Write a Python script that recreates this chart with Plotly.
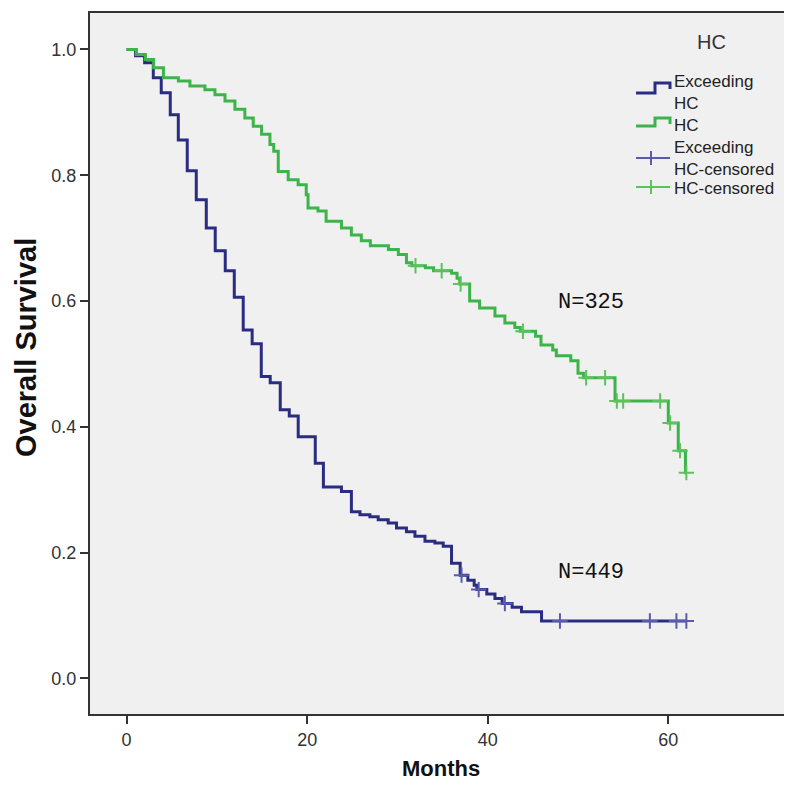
import plotly.graph_objects as go
import numpy as np

# ---- Data ----
exceed_times = [0, 1.0, 2.0, 2.96, 3.84, 4.84, 5.73, 6.72, 7.72, 8.83, 9.82, 10.93, 11.93,
                12.92, 13.91, 14.92, 15.91, 17.02, 18.02, 19.01, 20.90, 21.8, 23.8, 24.9, 25.85,
                26.95, 27.87, 28.98, 29.9, 31.0, 31.94, 33.05, 34.15, 35.07, 35.99, 36.95,
                37.8, 38.5, 38.8, 39.9, 40.8, 41.6, 42.7, 43.74, 45.96]
exceed_surv = [1.0, 0.99, 0.979, 0.955, 0.931, 0.896, 0.856, 0.807, 0.761, 0.716, 0.680, 0.648,
               0.606, 0.554, 0.532, 0.480, 0.470, 0.427, 0.417, 0.384, 0.342, 0.304, 0.297, 0.265,
               0.260, 0.257, 0.252, 0.247, 0.239, 0.233, 0.226, 0.218, 0.215, 0.210, 0.183,
               0.164, 0.156, 0.148, 0.141, 0.134, 0.127, 0.119, 0.113, 0.106, 0.091]
exceed_end = 62.0
exceed_censor = [37.1, 39.0, 41.9, 48.0, 57.96, 60.9, 62.0]

hc_times = [0, 1.09, 2.08, 3.0, 4.08, 5.74, 7.02, 8.68, 9.79, 10.9, 12.0, 13.1, 14.03, 14.95,
            15.88, 16.3, 16.8, 17.9, 19.0, 19.9, 20.1, 21.2, 22.1, 23.8, 24.9, 26.0, 27.0,
            29.0, 30.1, 31.0, 31.6, 33.1, 34.0, 36.0, 36.6, 36.9, 38.0, 39.1, 40.8, 41.9,
            43.0, 43.6, 45.3, 45.9, 47.2, 47.6, 49.2, 50.0, 50.6, 54.1, 60.0, 61.1, 61.9]
hc_surv = [1.0, 0.992, 0.984, 0.971, 0.955, 0.950, 0.942, 0.936, 0.928, 0.918, 0.905, 0.891,
           0.878, 0.865, 0.849, 0.838, 0.806, 0.793, 0.785, 0.769, 0.748, 0.743, 0.727, 0.716,
           0.705, 0.696, 0.688, 0.682, 0.674, 0.661, 0.656, 0.653, 0.648, 0.644, 0.636, 0.627,
           0.600, 0.589, 0.576, 0.565, 0.558, 0.552, 0.544, 0.530, 0.522, 0.513, 0.505, 0.485,
           0.478, 0.441, 0.406, 0.362, 0.327]
hc_end = 62.0
hc_censor = [32.0, 34.9, 37.0, 43.9, 50.9, 53.0, 54.3, 55.0, 59.1, 60.2, 61.3, 62.0]

x_ticks = [0, 20, 40, 60]
y_ticks = [0.0, 0.2, 0.4, 0.6, 0.8, 1.0]

legend_title = "HC"
series_names = ["Exceeding<br>HC", "HC", "Exceeding<br>HC-censored", "HC-censored"]
n_labels = [("N=325", 51.4, 0.598), ("N=449", 51.4, 0.169)]

BLUE = "#2a2c82"
GREEN = "#3cb44a"
BLUE_C = "#5a5cab"
GREEN_C = "#5cc25c"

# ---- layout geometry (pixels) ----
W, H = 792, 785
ML, MR, MT, MB = 82, 8, 5, 79
PW, PH = W - ML - MR, H - MT - MB


def pxx(px):
    return (px - ML) / PW


def pxy(py):
    return (H - MB - py) / PH


def step_value(times, surv, t):
    idx = np.searchsorted(np.array(times), t, side="right") - 1
    return surv[idx]


fig = go.Figure()

fig.add_trace(go.Scatter(x=exceed_times + [exceed_end], y=exceed_surv + [exceed_surv[-1]],
                         mode="lines", line=dict(color=BLUE, width=3, shape="hv"),
                         name="Exceeding HC", showlegend=False))
fig.add_trace(go.Scatter(x=hc_times + [hc_end], y=hc_surv + [hc_surv[-1]],
                         mode="lines", line=dict(color=GREEN, width=3, shape="hv"),
                         name="HC", showlegend=False))
fig.add_trace(go.Scatter(x=exceed_censor,
                         y=[step_value(exceed_times, exceed_surv, t) for t in exceed_censor],
                         mode="markers",
                         marker=dict(symbol="cross-thin", size=11, line=dict(color=BLUE_C, width=2)),
                         showlegend=False, name="Exceeding HC-censored"))
fig.add_trace(go.Scatter(x=hc_censor,
                         y=[step_value(hc_times, hc_surv, t) for t in hc_censor],
                         mode="markers",
                         marker=dict(symbol="cross-thin", size=11, line=dict(color=GREEN_C, width=2)),
                         showlegend=False, name="HC-censored"))

for txt, xx, yy in n_labels:
    fig.add_annotation(x=xx, y=yy, text=txt, showarrow=False, xref="x", yref="y",
                       font=dict(family="Liberation Mono", size=22, color="#111111"))

# ---- manual legend (SPSS style) ----
LEG_FONT = dict(family="Liberation Sans", size=17, color="#222222")
fig.add_annotation(x=pxx(703), y=pxy(34), xref="paper", yref="paper", text=legend_title,
                   showarrow=False, xanchor="center", yanchor="middle",
                   font=dict(family="Liberation Sans", size=20, color="#333333"))
legend_items = [(series_names[0], 85), (series_names[1], 117),
                (series_names[2], 150), (series_names[3], 180)]
for txt, yy in legend_items:
    fig.add_annotation(x=pxx(664), y=pxy(yy), xref="paper", yref="paper", text=txt,
                       showarrow=False, xanchor="left", yanchor="middle", align="left",
                       font=LEG_FONT)


def step_icon(y_low, y_high, color):
    path = (f"M {pxx(628)},{pxy(y_low)} L {pxx(647)},{pxy(y_low)} L {pxx(647)},{pxy(y_high)} "
            f"L {pxx(662)},{pxy(y_high)} L {pxx(662)},{pxy(y_high + 6)}")
    return dict(type="path", path=path, xref="paper", yref="paper",
                line=dict(color=color, width=3))


def censor_icon(yc, color):
    return [dict(type="line", xref="paper", yref="paper", x0=pxx(628), x1=pxx(662),
                 y0=pxy(yc), y1=pxy(yc), line=dict(color=color, width=2)),
            dict(type="line", xref="paper", yref="paper", x0=pxx(643), x1=pxx(643),
                 y0=pxy(yc - 7), y1=pxy(yc + 7), line=dict(color=color, width=2))]


shapes = [step_icon(85, 75, BLUE), step_icon(118, 110, GREEN)]
shapes += censor_icon(150, BLUE_C)
shapes += censor_icon(179, GREEN_C)

# axis titles
fig.add_annotation(x=pxx(18), y=pxy(340), xref="paper", yref="paper",
                   text="<b>Overall Survival</b>", textangle=-90, showarrow=False,
                   xanchor="center", yanchor="middle",
                   font=dict(family="Liberation Sans", size=29, color="#111111"))
fig.add_annotation(x=pxx(433), y=pxy(760), xref="paper", yref="paper",
                   text="<b>Months</b>", showarrow=False, xanchor="center", yanchor="middle",
                   font=dict(family="Liberation Sans", size=22, color="#111111"))

axis_common = dict(showgrid=False, zeroline=False, showline=True, linecolor="#333333",
                   linewidth=2, mirror=True, ticks="outside", ticklen=8, tickwidth=2,
                   tickcolor="#333333", automargin=False,
                   tickfont=dict(family="Liberation Sans", size=18, color="#333333"))

fig.update_xaxes(range=[-4.05, 73.7], tickvals=x_ticks, ticktext=[str(v) for v in x_ticks],
                 ticklabelstandoff=0, **axis_common)
fig.update_yaxes(range=[-0.0568, 1.058], tickvals=y_ticks, ticktext=[f"{v:.1f}" for v in y_ticks],
                 **axis_common)

fig.update_layout(
    width=W, height=H, autosize=False,
    margin=dict(l=ML, r=MR, t=MT, b=MB),
    plot_bgcolor="#f0f0f0", paper_bgcolor="#ffffff",
    shapes=shapes,
    showlegend=False,
)

fig.write_html("out.html")
